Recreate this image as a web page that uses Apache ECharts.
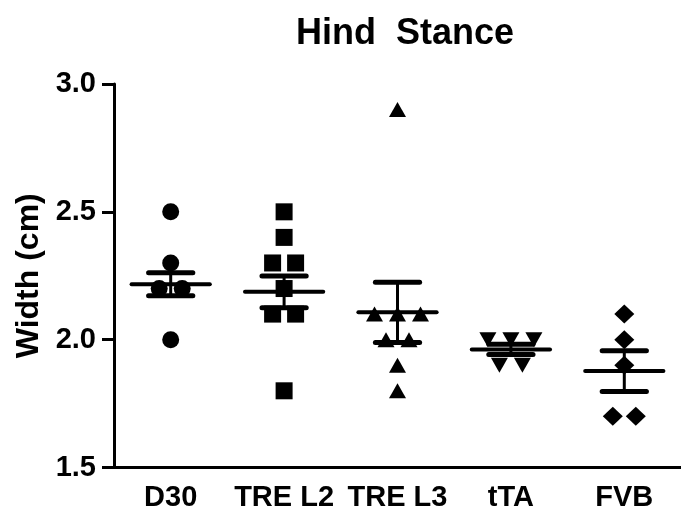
<!DOCTYPE html>
<html>
<head>
<meta charset="utf-8">
<script src="https://cdn.jsdelivr.net/npm/echarts@6/dist/echarts.min.js"></script>
<style>
  html, body { margin: 0; padding: 0; background: #fff; }
  #chart { width: 681px; height: 514px; }
</style>
</head>
<body>
<div id="chart"></div>
<script>
// ---- data ----
const categories = ['D30', 'TRE L2', 'TRE L3', 'tTA', 'FVB'];
const d30   = [2.5, 2.3, 2.2, 2.2, 2.0];
const treL2 = [2.5, 2.4, 2.3, 2.3, 2.2, 2.1, 2.1, 1.8];
const treL3 = [2.9, 2.1, 2.1, 2.1, 2.0, 2.0, 1.9, 1.8];
const tta   = [2.0, 2.0, 2.0, 1.9, 1.9];
const fvb   = [2.1, 2.0, 1.9, 1.7, 1.7];
const means = [2.217, 2.187, 2.107, 1.962, 1.877];
const sems  = [0.045, 0.062, 0.118, 0.020, 0.080];
const yTicks = [1.5, 2.0, 2.5, 3.0];

const FONT = "'Liberation Sans', Arial, Helvetica, sans-serif";
const groups = [d30, treL2, treL3, tta, fvb];
const symbols = ['circle', 'rect', 'triangle', 'triangle', 'diamond'];
const symSizes = [17, 17, [17, 15], [17, 15], [20, 19]];
const symRot = [0, 0, 0, 180, 0];
const SPREAD = 23; // px between side-by-side identical points

function spread(values, idx) {
  const counts = {}, seen = {};
  values.forEach(v => { counts[v] = (counts[v] || 0) + 1; });
  return values.map(v => {
    const k = counts[v];
    const i = seen[v] = (seen[v] === undefined ? 0 : seen[v] + 1);
    return { value: [idx, v], symbolOffset: [(i - (k - 1) / 2) * SPREAD, 0] };
  });
}

const scatterSeries = groups.map((vals, gi) => ({
  type: 'scatter',
  name: categories[gi],
  data: spread(vals, gi),
  symbol: symbols[gi],
  symbolSize: symSizes[gi],
  symbolRotate: symRot[gi],
  itemStyle: { color: '#000', opacity: 1 },
  z: 2,
  silent: true
}));

const errData = means.map((m, i) => [i, m, sems[i]]);

const errSeries = {
  type: 'custom',
  data: errData,
  encode: { x: 0, y: 1 },
  z: 5,
  silent: true,
  renderItem: function (params, api) {
    const i = api.value(0), m = api.value(1), s = api.value(2);
    const c = api.coord([i, m]);
    const top = api.coord([i, m + s]);
    const bot = api.coord([i, m - s]);
    const band = api.size([1, 0])[0];
    const mw = band * 0.69 / 2, cw = band * 0.39 / 2;
    const st = { stroke: '#000', lineCap: 'round' };
    return {
      type: 'group',
      children: [
        { type: 'line', shape: { x1: c[0], y1: top[1], x2: c[0], y2: bot[1] }, style: Object.assign({ lineWidth: 3 }, st) },
        { type: 'line', shape: { x1: c[0] - cw, y1: top[1], x2: c[0] + cw, y2: top[1] }, style: Object.assign({ lineWidth: 5 }, st) },
        { type: 'line', shape: { x1: c[0] - cw, y1: bot[1], x2: c[0] + cw, y2: bot[1] }, style: Object.assign({ lineWidth: 5 }, st) },
        { type: 'line', shape: { x1: c[0] - mw, y1: c[1], x2: c[0] + mw, y2: c[1] }, style: Object.assign({ lineWidth: 4 }, st) }
      ]
    };
  }
};

const chart = echarts.init(document.getElementById('chart'), null, { renderer: 'canvas' });
chart.setOption({
  animation: false,
  backgroundColor: '#fff',
  title: {
    text: 'Hind  Stance',
    left: 291,
    top: 11,
    textStyle: { fontFamily: FONT, fontWeight: 'bold', fontSize: 36, color: '#000' }
  },
  grid: { left: 114, top: 84, width: 578, height: 383.5, containLabel: false },
  xAxis: {
    type: 'category',
    data: categories,
    boundaryGap: true,
    axisLine: { lineStyle: { color: '#000', width: 3 } },
    axisTick: { alignWithLabel: true, interval: 0, length: 12, lineStyle: { color: '#000', width: 3 } },
    axisLabel: { interval: 0, margin: 16, color: '#000', fontFamily: FONT, fontWeight: 'bold', fontSize: 29 },
    splitLine: { show: false }
  },
  yAxis: {
    type: 'value',
    min: yTicks[0],
    max: yTicks[yTicks.length - 1],
    interval: 0.5,
    name: 'Width (cm)',
    nameLocation: 'middle',
    nameGap: 64,
    nameTextStyle: { color: '#000', fontFamily: FONT, fontWeight: 'bold', fontSize: 32 },
    axisLine: { show: true, lineStyle: { color: '#000', width: 3 } },
    axisTick: { show: true, length: 12, lineStyle: { color: '#000', width: 3 } },
    axisLabel: { margin: 18, color: '#000', fontFamily: FONT, fontWeight: 'bold', fontSize: 29,
                 formatter: v => v.toFixed(1) },
    splitLine: { show: false }
  },
  series: scatterSeries.concat([errSeries])
});
</script>
</body>
</html>
